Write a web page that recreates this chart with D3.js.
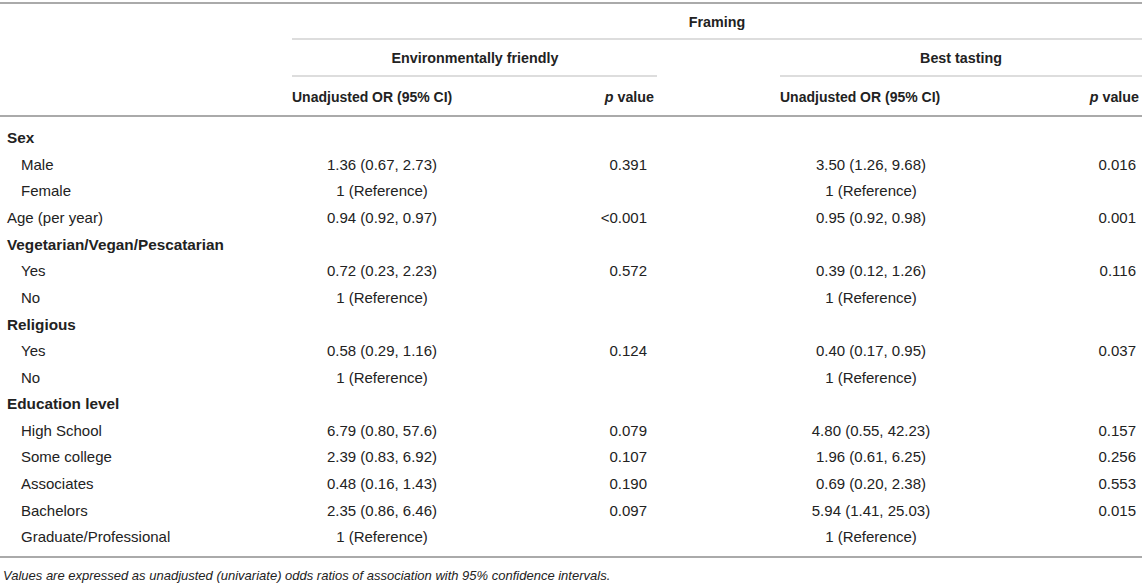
<!DOCTYPE html>
<meta charset="utf-8">
<script src="https://d3js.org/d3.v7.min.js"></script>
<style>
  body { margin: 0; background: #fff; }
  text { font-family: "Liberation Sans", Arial, sans-serif; fill: #222; }
</style>
<div id="tbl"></div>
<script>
// table content
const rowLabels = ["Sex", "Male", "Female", "Age (per year)", "Vegetarian/Vegan/Pescatarian", "Yes", "No",
  "Religious", "Yes", "No", "Education level", "High School", "Some college", "Associates", "Bachelors", "Graduate/Professional"];
const rowBold   = [1, 0, 0, 0, 1, 0, 0, 1, 0, 0, 1, 0, 0, 0, 0, 0];
const rowIndent = [0, 1, 1, 0, 0, 1, 1, 0, 1, 1, 0, 1, 1, 1, 1, 1];
const envOR  = ["", "1.36 (0.67, 2.73)", "1 (Reference)", "0.94 (0.92, 0.97)", "", "0.72 (0.23, 2.23)", "1 (Reference)",
  "", "0.58 (0.29, 1.16)", "1 (Reference)", "", "6.79 (0.80, 57.6)", "2.39 (0.83, 6.92)", "0.48 (0.16, 1.43)", "2.35 (0.86, 6.46)", "1 (Reference)"];
const envP   = ["", "0.391", "", "<0.001", "", "0.572", "", "", "0.124", "", "", "0.079", "0.107", "0.190", "0.097", ""];
const bestOR = ["", "3.50 (1.26, 9.68)", "1 (Reference)", "0.95 (0.92, 0.98)", "", "0.39 (0.12, 1.26)", "1 (Reference)",
  "", "0.40 (0.17, 0.95)", "1 (Reference)", "", "4.80 (0.55, 42.23)", "1.96 (0.61, 6.25)", "0.69 (0.20, 2.38)", "5.94 (1.41, 25.03)", "1 (Reference)"];
const bestP  = ["", "0.016", "", "0.001", "", "0.116", "", "", "0.037", "", "", "0.157", "0.256", "0.553", "0.015", ""];
const groupLabels = ["Environmentally friendly", "Best tasting"];
const footnote = "Values are expressed as unadjusted (univariate) odds ratios of association with 95% confidence intervals.";

const W = 1142, H = 585, fsHead = 14.3, fsBody = 15;
const svg = d3.select("#tbl").append("svg").attr("width", W).attr("height", H);

// row positions
const y = d3.scalePoint().domain(d3.range(rowLabels.length)).range([138, 537]);

// horizontal rules
function rule(x1, x2, yy, w, c) {
  svg.append("line").attr("x1", x1).attr("x2", x2).attr("y1", yy).attr("y2", yy)
    .attr("stroke", c).attr("stroke-width", w);
}
rule(0, W, 3, 2, "#aaa");
rule(292, W, 39, 1.2, "#bbb");
rule(292, 657, 76, 1.2, "#bbb");
rule(780, W, 76, 1.2, "#bbb");
rule(0, W, 116, 2, "#aaa");
rule(0, W, 557, 2, "#aaa");

// header
svg.append("text").attr("x", 717).attr("y", 22).attr("dy", "0.35em").attr("text-anchor", "middle")
  .attr("font-weight", "bold").attr("font-size", fsHead).text("Framing");
const groupX = [475, 961];
groupLabels.forEach((g, i) => {
  svg.append("text").attr("x", groupX[i]).attr("y", 58).attr("dy", "0.35em").attr("text-anchor", "middle")
    .attr("font-weight", "bold").attr("font-size", fsHead).text(g);
});
[[292, 654], [780, 1139]].forEach(([xl, xr]) => {
  svg.append("text").attr("x", xl).attr("y", 97).attr("dy", "0.35em")
    .attr("font-weight", "bold").attr("font-size", 14).text("Unadjusted OR (95% CI)");
  const t = svg.append("text").attr("x", xr).attr("y", 97).attr("dy", "0.35em").attr("text-anchor", "end")
    .attr("font-weight", "bold").attr("font-size", fsHead);
  t.append("tspan").attr("font-style", "italic").text("p");
  t.append("tspan").text(" value");
});

// body columns
const cols = [
  {vals: envOR, x: 382, anchor: "middle"},
  {vals: envP, x: 647, anchor: "end"},
  {vals: bestOR, x: 871, anchor: "middle"},
  {vals: bestP, x: 1136, anchor: "end"}
];

svg.append("g").selectAll("text").data(rowLabels).join("text")
  .attr("x", (d, i) => rowIndent[i] ? 21 : 7)
  .attr("y", (d, i) => y(i)).attr("dy", "0.35em")
  .attr("font-size", (d, i) => rowBold[i] ? 15.3 : fsBody)
  .attr("font-weight", (d, i) => rowBold[i] ? "bold" : "normal")
  .attr("fill", (d, i) => rowBold[i] ? "#111" : "#333")
  .text(d => d);

cols.forEach(c => {
  svg.append("g").selectAll("text").data(c.vals).join("text")
    .attr("x", c.x).attr("y", (d, i) => y(i)).attr("dy", "0.35em")
    .attr("text-anchor", c.anchor).attr("font-size", fsBody).attr("fill", "#333")
    .text(d => d);
});

svg.append("text").attr("x", 3).attr("y", 575).attr("dy", "0.35em")
  .attr("font-size", 13).attr("font-style", "italic").attr("fill", "#333").text(footnote);
</script>
